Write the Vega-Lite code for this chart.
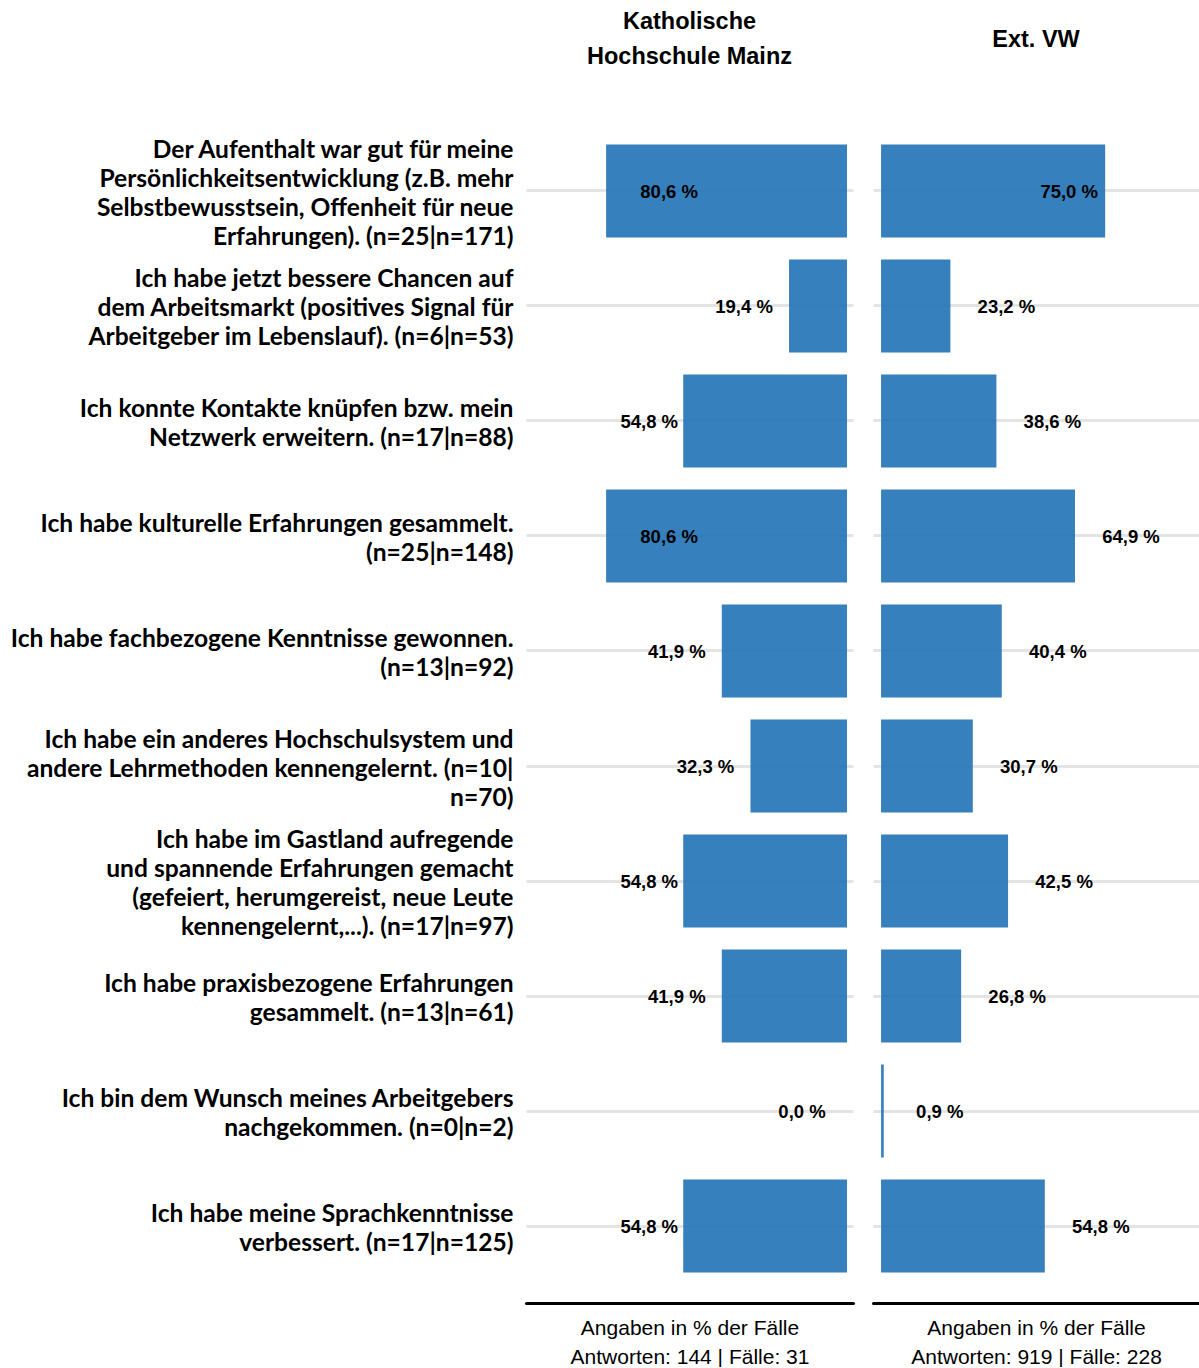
{
  "$schema": "https://vega.github.io/schema/vega-lite/v6.json",
  "background": "white",
  "padding": {"left": 10, "top": 9, "right": 0, "bottom": 0},
  "spacing": 20,
  "config": {
    "view": {"stroke": null},
    "font": "Liberation Sans",
    "title": {"font": "Liberation Sans", "fontWeight": "bold", "fontSize": 23.5, "lineHeight": 35, "color": "black", "anchor": "middle", "offset": 46}
  },
  "datasets": {
    "d": [
      {"item": "Der Aufenthalt war gut für meine\nPersönlichkeitsentwicklung (z.B. mehr\nSelbstbewusstsein, Offenheit für neue\nErfahrungen). (n=25|n=171)", "group": "KH", "pct": 80.6},
      {"item": "Ich habe jetzt bessere Chancen auf\ndem Arbeitsmarkt (positives Signal für\nArbeitgeber im Lebenslauf). (n=6|n=53)", "group": "KH", "pct": 19.4},
      {"item": "Ich konnte Kontakte knüpfen bzw. mein\nNetzwerk erweitern. (n=17|n=88)", "group": "KH", "pct": 54.8},
      {"item": "Ich habe kulturelle Erfahrungen gesammelt.\n(n=25|n=148)", "group": "KH", "pct": 80.6},
      {"item": "Ich habe fachbezogene Kenntnisse gewonnen.\n(n=13|n=92)", "group": "KH", "pct": 41.9},
      {"item": "Ich habe ein anderes Hochschulsystem und\nandere Lehrmethoden kennengelernt. (n=10|\nn=70)", "group": "KH", "pct": 32.3},
      {"item": "Ich habe im Gastland aufregende\nund spannende Erfahrungen gemacht\n(gefeiert, herumgereist, neue Leute\nkennengelernt,...). (n=17|n=97)", "group": "KH", "pct": 54.8},
      {"item": "Ich habe praxisbezogene Erfahrungen\ngesammelt. (n=13|n=61)", "group": "KH", "pct": 41.9},
      {"item": "Ich bin dem Wunsch meines Arbeitgebers\nnachgekommen. (n=0|n=2)", "group": "KH", "pct": 0.0},
      {"item": "Ich habe meine Sprachkenntnisse\nverbessert. (n=17|n=125)", "group": "KH", "pct": 54.8},
      {"item": "Der Aufenthalt war gut für meine\nPersönlichkeitsentwicklung (z.B. mehr\nSelbstbewusstsein, Offenheit für neue\nErfahrungen). (n=25|n=171)", "group": "VW", "pct": 75.0},
      {"item": "Ich habe jetzt bessere Chancen auf\ndem Arbeitsmarkt (positives Signal für\nArbeitgeber im Lebenslauf). (n=6|n=53)", "group": "VW", "pct": 23.2},
      {"item": "Ich konnte Kontakte knüpfen bzw. mein\nNetzwerk erweitern. (n=17|n=88)", "group": "VW", "pct": 38.6},
      {"item": "Ich habe kulturelle Erfahrungen gesammelt.\n(n=25|n=148)", "group": "VW", "pct": 64.9},
      {"item": "Ich habe fachbezogene Kenntnisse gewonnen.\n(n=13|n=92)", "group": "VW", "pct": 40.4},
      {"item": "Ich habe ein anderes Hochschulsystem und\nandere Lehrmethoden kennengelernt. (n=10|\nn=70)", "group": "VW", "pct": 30.7},
      {"item": "Ich habe im Gastland aufregende\nund spannende Erfahrungen gemacht\n(gefeiert, herumgereist, neue Leute\nkennengelernt,...). (n=17|n=97)", "group": "VW", "pct": 42.5},
      {"item": "Ich habe praxisbezogene Erfahrungen\ngesammelt. (n=13|n=61)", "group": "VW", "pct": 26.8},
      {"item": "Ich bin dem Wunsch meines Arbeitgebers\nnachgekommen. (n=0|n=2)", "group": "VW", "pct": 0.9},
      {"item": "Ich habe meine Sprachkenntnisse\nverbessert. (n=17|n=125)", "group": "VW", "pct": 54.8}
    ]
  },
  "hconcat": [
    {
      "width": 327,
      "height": 1189,
      "title": {"text": ["Katholische", "Hochschule Mainz"]},
      "data": {"name": "d"},
      "transform": [
        {"filter": "datum.group === 'KH'"},
        {"calculate": "replace(format(datum.pct, '.1f'), '.', ',') + ' %'", "as": "lab"}
      ],
      "encoding": {
        "y": {
          "field": "item", "type": "nominal", "sort": null,
          "scale": {"paddingInner": 0.191, "paddingOuter": 0.265},
          "axis": {
            "title": null, "ticks": false, "domain": false,
            "grid": true, "gridColor": "#e4e4e4", "gridWidth": 3, "bandPosition": 0.5,
            "labelExpr": "split(datum.label, '\\n')",
            "labelOffset": {
              "condition": [
                {"test": "length(split(datum.label, '\\n')) === 4", "value": -40},
                {"test": "length(split(datum.label, '\\n')) === 3", "value": -25.5}
              ],
              "value": -11
            },
            "labelFont": "Lato", "labelFontWeight": "bold", "labelFontSize": 24.6,
            "labelLineHeight": 29, "labelColor": "black", "labelLimit": 0,
            "labelPadding": 13, "labelAlign": "right", "labelBaseline": "middle"
          }
        }
      },
      "layer": [
        {
          "mark": {"type": "bar", "color": "#2776b9", "opacity": 0.93},
          "encoding": {
            "x": {
              "field": "pct", "type": "quantitative",
              "scale": {"domain": [-2, 107.4], "reverse": true, "nice": false, "zero": false},
              "axis": {
                "title": ["Angaben in % der Fälle", "Antworten: 144 | Fälle: 31"],
                "labels": false, "ticks": false, "grid": false,
                "domain": true, "domainColor": "black", "domainWidth": 3, "domainCap": "round",
                "titleFont": "Liberation Sans", "titleFontWeight": "normal", "titleFontSize": 21,
                "titleLineHeight": 29, "titleColor": "black", "titlePadding": 14
              }
            }
          }
        },
        {
          "transform": [{"filter": "datum.pct < 50"}],
          "mark": {"type": "text", "dx": -45, "dy": 1, "align": "center", "baseline": "middle", "font": "Liberation Sans", "fontWeight": "bold", "fontSize": 18.5, "color": "black"},
          "encoding": {
            "x": {"field": "pct", "type": "quantitative"},
            "text": {"field": "lab"}
          }
        },
        {
          "transform": [{"filter": "datum.pct >= 50 && datum.pct < 70"}],
          "mark": {"type": "text", "dx": -34, "dy": 1, "align": "center", "baseline": "middle", "font": "Liberation Sans", "fontWeight": "bold", "fontSize": 18.5, "color": "black"},
          "encoding": {
            "x": {"field": "pct", "type": "quantitative"},
            "text": {"field": "lab"}
          }
        },
        {
          "transform": [{"filter": "datum.pct >= 70"}],
          "mark": {"type": "text", "dx": 63, "dy": 1, "align": "center", "baseline": "middle", "font": "Liberation Sans", "fontWeight": "bold", "fontSize": 18.5, "color": "black"},
          "encoding": {
            "x": {"field": "pct", "type": "quantitative"},
            "text": {"field": "lab"}
          }
        }
      ]
    },
    {
      "width": 326,
      "height": 1189,
      "title": {"text": "Ext. VW", "dy": -17},
      "data": {"name": "d"},
      "transform": [
        {"filter": "datum.group === 'VW'"},
        {"calculate": "replace(format(datum.pct, '.1f'), '.', ',') + ' %'", "as": "lab"}
      ],
      "encoding": {
        "y": {
          "field": "item", "type": "nominal", "sort": null,
          "scale": {"paddingInner": 0.191, "paddingOuter": 0.265},
          "axis": {
            "title": null, "ticks": false, "domain": false, "labels": false,
            "grid": true, "gridColor": "#e4e4e4", "gridWidth": 3, "bandPosition": 0.5
          }
        }
      },
      "layer": [
        {
          "mark": {"type": "bar", "color": "#2776b9", "opacity": 0.93},
          "encoding": {
            "x": {
              "field": "pct", "type": "quantitative",
              "scale": {"domain": [-2.7, 106.4], "nice": false, "zero": false},
              "axis": {
                "title": ["Angaben in % der Fälle", "Antworten: 919 | Fälle: 228"],
                "labels": false, "ticks": false, "grid": false,
                "domain": true, "domainColor": "black", "domainWidth": 3, "domainCap": "round",
                "titleFont": "Liberation Sans", "titleFontWeight": "normal", "titleFontSize": 21,
                "titleLineHeight": 29, "titleColor": "black", "titlePadding": 14
              }
            }
          }
        },
        {
          "transform": [{"filter": "datum.pct < 70"}],
          "mark": {"type": "text", "dx": 56, "dy": 1, "align": "center", "baseline": "middle", "font": "Liberation Sans", "fontWeight": "bold", "fontSize": 18.5, "color": "black"},
          "encoding": {
            "x": {"field": "pct", "type": "quantitative"},
            "text": {"field": "lab"}
          }
        },
        {
          "transform": [{"filter": "datum.pct >= 70"}],
          "mark": {"type": "text", "dx": -36, "dy": 1, "align": "center", "baseline": "middle", "font": "Liberation Sans", "fontWeight": "bold", "fontSize": 18.5, "color": "black"},
          "encoding": {
            "x": {"field": "pct", "type": "quantitative"},
            "text": {"field": "lab"}
          }
        }
      ]
    }
  ]
}
